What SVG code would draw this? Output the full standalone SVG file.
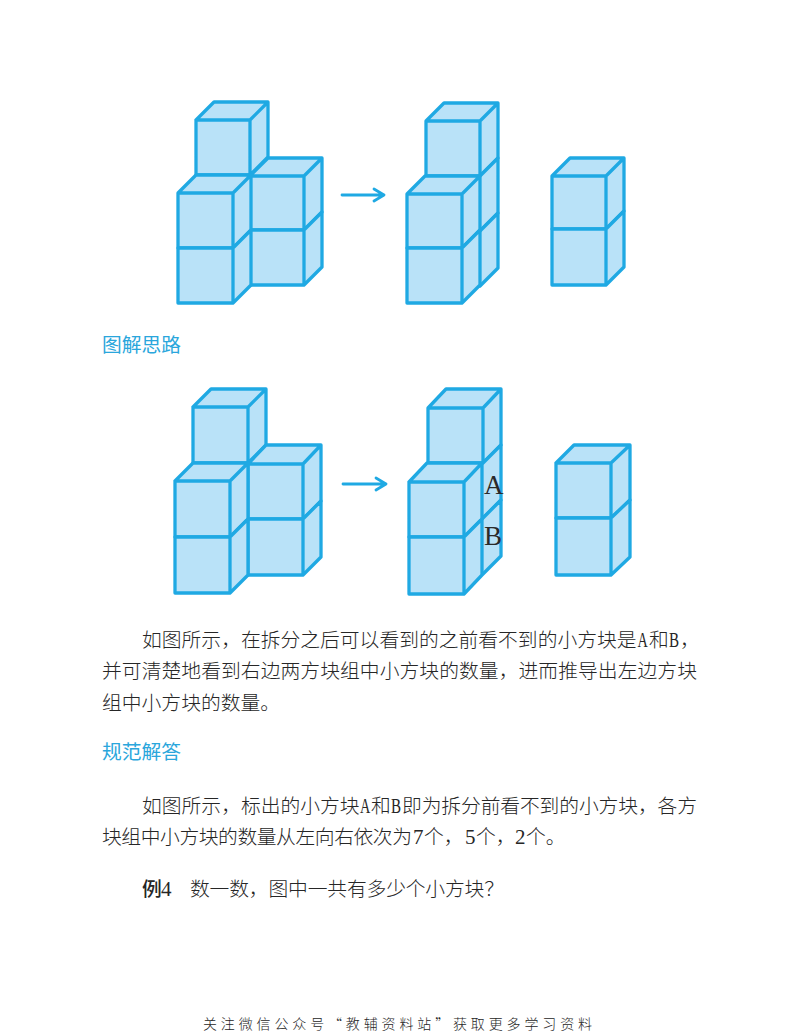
<svg xmlns="http://www.w3.org/2000/svg" width="800" height="1035" viewBox="0 0 800 1035">
<style>
.c{fill:#b9e2f8;stroke:#1fa9e3;stroke-width:3.3;stroke-linejoin:round;stroke-linecap:round}
.a{fill:none;stroke:#1fa9e3;stroke-width:2.8;stroke-linecap:round;stroke-linejoin:round}
text{font-family:"Noto Sans CJK SC",sans-serif;font-size:19.8px;fill:#262626;font-weight:300}
.h{fill:#2aa6dc;font-weight:400}
.l{font-family:"Liberation Serif",serif;font-size:27px;fill:#2a2a2a;font-weight:400}
.n{font-family:"Liberation Serif",serif;font-size:21px}
</style>
<rect width="800" height="1035" fill="#fff"/>
<g id="group-1-whole">
<path class="c" d="M196 120h54v55h-54zM196 120l18-18h54l-18 18M250 175l18-18v-55l-18 18"/>
<path class="c" d="M250 176h54v54h-54zM250 176l18-18h54l-18 18M304 230l18-18v-54l-18 18"/>
<path class="c" d="M250 230h54v55h-54zM304 285l18-18v-55l-18 18"/>
<path class="c" d="M178 193h55v55h-55zM178 193l18-18h55l-18 18M233 248l18-18v-55l-18 18"/>
<path class="c" d="M178 248h55v55h-55zM233 303l18-18v-55l-18 18"/>
</g>
<g id="group-1-split-left">
<path class="c" d="M426 121h54v55h-54zM426 121l18-18h54l-18 18M480 176l18-18v-55l-18 18"/>
<path class="c" d="M480 231l18-18v-55l-18 18"/>
<path class="c" d="M480 286l18-18v-55l-18 18"/>
<path class="c" d="M407 194h55v54h-55zM407 194l18-18h55l-18 18M462 248l18-18v-54l-18 18"/>
<path class="c" d="M407 248h55v55h-55zM462 303l18-18v-55l-18 18"/>
</g>
<g id="group-1-split-right">
<path class="c" d="M552 176h54v53h-54zM552 176l18-18h54l-18 18M606 229l18-18v-53l-18 18"/>
<path class="c" d="M552 229h54v56h-54zM606 285l18-18v-56l-18 18"/>
</g>
<g id="group-2-whole">
<path class="c" d="M193 407h55v56h-55zM193 407l18-18h55l-18 18M248 463l18-18v-56l-18 18"/>
<path class="c" d="M248 464h55v55h-55zM248 464l18-19h55l-18 19M303 519l18-18v-56l-18 19"/>
<path class="c" d="M248 519h55v56h-55zM303 575l18-18v-56l-18 18"/>
<path class="c" d="M175 481h55v56h-55zM175 481l18-18h55l-18 18M230 537l18-18v-56l-18 18"/>
<path class="c" d="M175 537h55v56h-55zM230 593l18-18v-56l-18 18"/>
</g>
<g id="group-2-split-left">
<path class="c" d="M428 408h55v55h-55zM428 408l18-19h55l-18 19M483 463l18-18v-56l-18 19"/>
<path class="c" d="M483 518l18-18v-55l-18 18"/>
<path class="c" d="M483 574l18-18v-56l-18 18"/>
<path class="c" d="M409 482h55v55h-55zM409 482l18-19h55l-18 19M464 537l18-18v-56l-18 19"/>
<path class="c" d="M409 537h55v57h-55zM464 594l18-19v-56l-18 18"/>
</g>
<g id="group-2-split-right">
<path class="c" d="M556 463h55v55h-55zM556 463l18-18h56l-19 18M611 518l19-18v-55l-19 18"/>
<path class="c" d="M556 518h55v57h-55zM611 575l19-18v-57l-19 18"/>
</g>
<g id="connectors">
<path class="a" d="M342 195h42M374 189l10 6-10 6"/>
<path class="a" d="M343 484h43M376 478l10 6-10 6"/>
</g>
<g id="labels">
<text class="l" x="484" y="494">A</text>
<text class="l" x="484" y="545">B</text>
</g>
<g id="page-text">
<text class="h" x="102" y="352">图解思路</text>
<text x="142" y="647">如图所示，在拆分之后可以看到的之前看不到的小方块是</text>
<text class="n" transform="translate(637.5 647) scale(.68 1)">A</text>
<text x="649" y="647">和</text>
<text class="n" transform="translate(669 647) scale(.72 1)">B</text>
<text x="680" y="647">，</text>
<text x="102" y="678" textLength="595">并可清楚地看到右边两方块组中小方块的数量，进而推导出左边方块</text>
<text x="102" y="710">组中小方块的数量。</text>
<text class="h" x="102" y="759">规范解答</text>
<text x="142" y="813">如图所示，标出的小方块</text>
<text class="n" transform="translate(360 813) scale(.68 1)">A</text>
<text x="371" y="813">和</text>
<text class="n" transform="translate(391 813) scale(.72 1)">B</text>
<text x="402" y="813" textLength="295">即为拆分前看不到的小方块，各方</text>
<text x="102" y="844" textLength="310">块组中小方块的数量从左向右依次为</text>
<text y="844"><tspan class="n" x="413">7</tspan><tspan x="424">个，</tspan><tspan class="n" x="465">5</tspan><tspan x="476">个，</tspan><tspan class="n" x="515">2</tspan><tspan x="526">个。</tspan></text>
<text x="142" y="896" style="font-weight:500">例<tspan class="n" x="161">4</tspan></text>
<text x="190" y="896" textLength="314">数一数，图中一共有多少个小方块？</text>
<text x="203" y="1029" textLength="389" style="font-size:14px">关注微信公众号“教辅资料站”获取更多学习资料</text>
</g>
</svg>
